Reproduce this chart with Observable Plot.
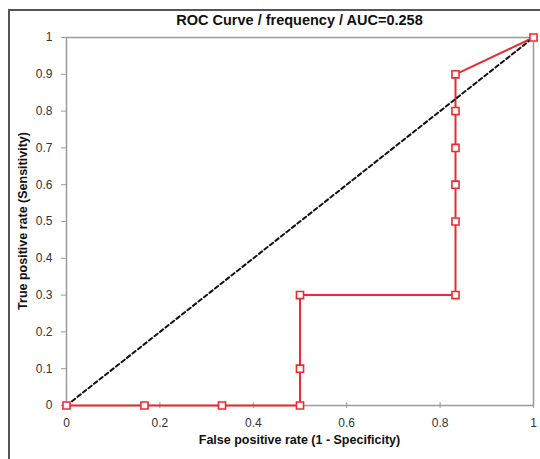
<!DOCTYPE html>
<html>
<head>
<meta charset="utf-8">
<script src="https://cdn.jsdelivr.net/npm/d3@7"></script>
<script src="https://cdn.jsdelivr.net/npm/@observablehq/plot@0.6"></script>
<style>
  html, body { margin: 0; padding: 0; background: #fff; }
  #wrap { position: relative; width: 540px; height: 459px; overflow: hidden; font-family: "Liberation Sans", "DejaVu Sans", sans-serif; }
  #border { position: absolute; left: 8px; top: 9px; width: 600px; height: 600px; border-left: 2px solid #555; border-top: 2px solid #555; box-sizing: border-box; }
  #chart { position: absolute; left: 0; top: 0; }
  .title { position: absolute; left: 66px; width: 467px; top: 12px; text-align: center; font-weight: bold; font-size: 14.5px; color: #111; }
  .xlabel { position: absolute; left: 66px; width: 467px; top: 433px; text-align: center; font-weight: bold; font-size: 12.5px; color: #111; }
  .ylabel { position: absolute; left: 23px; top: 221px; transform: translate(-50%, -50%) rotate(-90deg); white-space: nowrap; font-weight: bold; font-size: 12.5px; color: #111; }
</style>
</head>
<body>
<div id="wrap">
  <div id="border"></div>
  <div id="chart"></div>
  <div class="title" id="title"></div>
  <div class="xlabel" id="xlabel"></div>
  <div class="ylabel" id="ylabel"></div>
</div>
<script>
// ---- data ----
const titleText = "ROC Curve / frequency / AUC=0.258";
const xLabelText = "False positive rate (1 - Specificity)";
const yLabelText = "True positive rate (Sensitivity)";
const fpr = [0, 0.167, 0.333, 0.5, 0.5, 0.5, 0.833, 0.833, 0.833, 0.833, 0.833, 0.833, 1];
const tpr = [0, 0, 0, 0, 0.1, 0.3, 0.3, 0.5, 0.6, 0.7, 0.8, 0.9, 1];
const diagX = [0, 1];
const diagY = [0, 1];
const xTicks = [0, 0.2, 0.4, 0.6, 0.8, 1];
const yTicks = [0, 0.1, 0.2, 0.3, 0.4, 0.5, 0.6, 0.7, 0.8, 0.9, 1];

const roc = fpr.map((x, i) => ({x, y: tpr[i]}));
const diag = diagX.map((x, i) => ({x, y: diagY[i]}));

document.getElementById("title").textContent = titleText;
document.getElementById("xlabel").textContent = xLabelText;
document.getElementById("ylabel").textContent = yLabelText;

const fmt = d => String(d);
const red = "#ee2a2f";
const gray = "#9a9a9a";

const chart = Plot.plot({
  width: 540,
  height: 459,
  marginLeft: 66,
  marginRight: 7,
  marginTop: 37,
  marginBottom: 54,
  style: {fontFamily: "Liberation Sans, DejaVu Sans, sans-serif", fontSize: "12px", color: "#333", background: "transparent"},
  x: {domain: [0, 1]},
  y: {domain: [0, 1]},
  marks: [
    Plot.frame({stroke: gray, strokeWidth: 1.5}),
    Plot.axisY({ticks: yTicks, tickFormat: fmt, tickSize: 5, tickPadding: 9, stroke: gray, label: null}),
    Plot.axisX({ticks: xTicks, tickFormat: fmt, tickSize: 6, dy: -3, tickPadding: 10, stroke: gray, label: null}),
    Plot.line(roc, {x: "x", y: "y", stroke: red, strokeWidth: 2, curve: "linear"}),
    Plot.line(diag, {x: "x", y: "y", stroke: "#111", strokeWidth: 2, strokeDasharray: "4,3"}),
    Plot.dot(roc, {x: "x", y: "y", symbol: "square", r: 4, fill: "white", stroke: red, strokeWidth: 1.6})
  ]
});
document.getElementById("chart").appendChild(chart);
</script>
</body>
</html>
